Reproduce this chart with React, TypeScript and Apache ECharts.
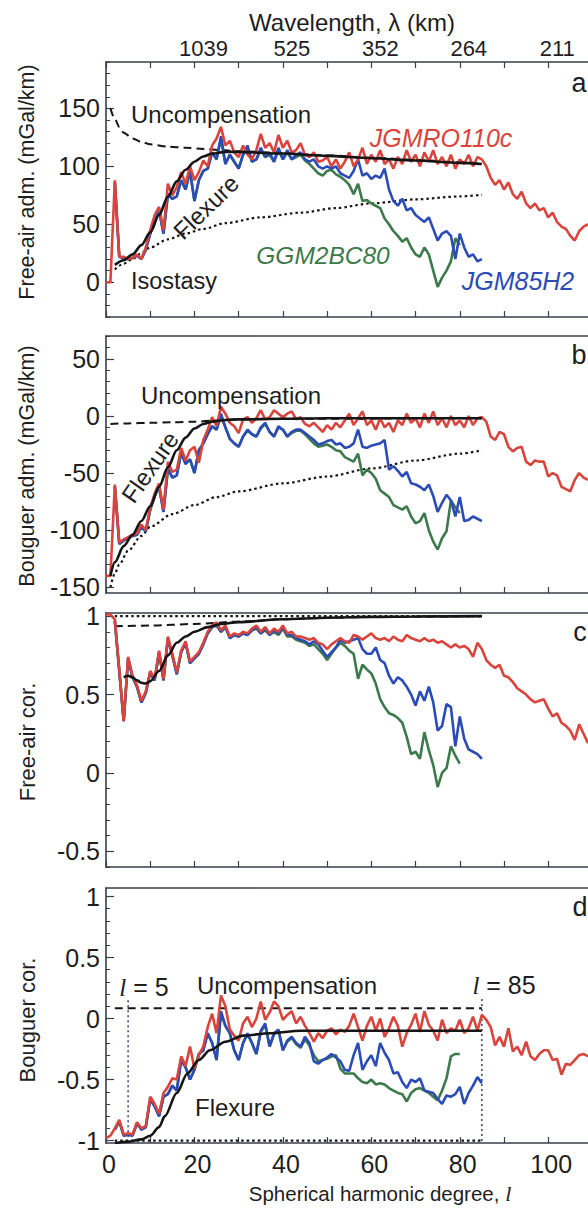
import React, { useEffect, useRef } from "react";
import * as echarts from "echarts";

// ---------------- axes / ticks ----------------
const X_MAX = 109;
const TOP_TICK_DEGREES = [20, 40, 60, 80, 100];
const TOP_TICK_LABELS = ["1039", "525", "352", "264", "211"];
const BOTTOM_TICK_DEGREES = [0, 20, 40, 60, 80, 100];

const RED_START = 0;
const BLUE_START = 2;
const GREEN_START = 2;

// ---------------- (a) Free-air admittance ----------------
const FA_ADM_RED = [
  0, 0, 88, 22, 22, 20, 21, 24, 20, 30,
  45, 58, 65, 45, 85, 75, 82, 95, 85, 100,
  88, 95, 105, 100, 118, 124, 134, 118, 122, 112,
  108, 118, 110, 106, 114, 128, 116, 120, 112, 127,
  116, 122, 112, 114, 120, 110, 108, 112, 104, 105,
  108, 100, 106, 98, 104, 112, 100, 106, 116, 102,
  110, 104, 114, 102, 106, 98, 108, 102, 114, 104,
  110, 100, 112, 104, 114, 102, 108, 100, 110, 98,
  106, 102, 110, 100, 108, 106, 100, 90, 84, 88,
  80, 86, 76, 72, 78, 68, 64, 68, 62, 64,
  56, 60, 52, 48, 46, 40, 36, 44, 48, 50,
];
const FA_ADM_BLUE = [
  86, 22, 21, 20, 21, 23, 20, 28,
  42, 55, 62, 42, 76, 72, 74, 88, 80, 96,
  70, 88, 96, 98, 112, 106, 126, 102, 110, 104,
  98, 110, 118, 104, 106, 116, 108, 112, 104, 116,
  106, 114, 106, 110, 112, 106, 104, 106, 100, 98,
  100, 98, 100, 94, 92, 90, 96, 106, 92, 94,
  89, 92, 90, 98, 80, 70, 66, 72, 62, 64,
  58, 55, 52, 56, 46, 36, 42, 44, 40, 20,
  42, 30, 22, 24, 18, 20,
];
const FA_ADM_GREEN = [
  86, 22, 21, 20, 21, 23, 20, 28,
  42, 55, 62, 42, 76, 72, 74, 88, 80, 96,
  70, 88, 96, 98, 112, 106, 124, 102, 110, 104,
  98, 110, 116, 104, 106, 114, 108, 110, 104, 114,
  106, 112, 106, 108, 110, 105, 102, 98, 94, 92,
  96, 97, 93, 91, 88, 84, 76, 85, 70, 71,
  68, 66, 64, 55, 50, 44, 40, 35, 38, 30,
  24, 22, 30, 24, 10, -4, 4, 10, 18, 38,
  32,
];
const FA_ADM_FLEXURE = [
  [2, 15], [4, 19], [6, 24], [8, 32], [10, 43], [12, 58], [14, 74], [16, 87], [18, 97],
  [20, 104], [22, 108.5], [24, 111], [27, 112.5], [30, 112.5], [40, 111], [50, 109],
  [60, 107], [70, 105], [80, 103], [85, 102],
];
const FA_ADM_UNCOMP = [
  [1, 150], [2, 141], [3, 134], [4, 129], [6, 124], [8, 121], [10, 119], [14, 117],
  [18, 116], [22, 115], [26, 114], [30, 113], [40, 111.5], [50, 109.5], [60, 107.5],
  [70, 105.5], [80, 103.5], [85, 102.5],
];
const FA_ADM_ISOSTASY = [
  [2, 11], [4, 16], [6, 20], [8, 25], [10, 30], [14, 37], [18, 42], [22, 46], [27, 51],
  [35, 56], [44, 60], [52, 64], [60, 68], [70, 71.5], [80, 74], [85, 75.5],
];

// ---------------- (b) Bouguer admittance ----------------
const BG_ADM_RED = [
  -140, -140, -60, -111, -108, -106, -104, -103, -95, -100,
  -80, -68, -59, -82, -40, -49, -47, -28, -39, -30,
  -27, -41, -21, -12, -1, -9, 8, 2, -6, -9,
  -15, -3, -1, -6, -2, 5, -3, -1, 5, 2,
  -1, 2, 4, -3, -1, -7, -9, -6, -10, -14,
  -8, -12, -6, -10, -4, 2, -8, -2, 4, -8,
  -4, -12, -2, -10, -6, -14, -4, -8, 2, -6,
  -2, -10, 2, -6, 4, -8, -2, -10, 0, -8,
  -4, -10, 0, -8, -2, -1, -5, -18, -21, -14,
  -16, -27, -31, -28, -27, -40, -43, -39, -40, -40,
  -53, -50, -52, -62, -64, -66, -56, -50, -54, -56,
];
const BG_ADM_BLUE = [
  -62, -112, -109, -107, -105, -104, -97, -101,
  -82, -70, -62, -84, -46, -54, -52, -32, -42, -38,
  -50, -30, -24, -16, -9, -12, 2, -10, -20, -24,
  -27, -18, -12, -16, -18, -10, -6, -14, -18, -9,
  -12, -18, -14, -12, -12, -15, -18, -21, -25, -24,
  -22, -21, -25, -24, -28, -27, -24, -12, -27, -28,
  -26, -25, -24, -21, -47, -44, -48, -53, -49, -59,
  -60, -62, -65, -60, -70, -84, -76, -69, -74, -88,
  -71, -92, -91, -88, -90, -92,
];
const BG_ADM_GREEN = [
  -62, -112, -109, -107, -105, -104, -97, -101,
  -82, -70, -62, -84, -46, -54, -52, -32, -42, -38,
  -50, -30, -24, -16, -9, -12, 0, -10, -20, -24,
  -27, -18, -13, -16, -18, -11, -7, -14, -18, -10,
  -12, -18, -15, -13, -13, -16, -20, -24, -27, -26,
  -25, -27, -30, -31, -36, -38, -40, -33, -52, -47,
  -50, -55, -65, -68, -71, -78, -80, -82, -79, -88,
  -94, -92, -85, -100, -110, -117, -107, -101, -74, -80,
  -85,
];
const BG_ADM_FLEXURE = [
  [1, -140], [2, -128], [4, -114], [6, -104], [8, -92], [10, -79], [12, -62], [14, -45],
  [16, -30], [18, -19], [20, -11], [22, -7], [24, -5], [27, -3.5], [30, -3], [40, -2.5],
  [50, -2], [60, -2], [70, -2], [85, -2],
];
const BG_ADM_UNCOMP = [
  [1, -7], [5, -6.5], [10, -6], [15, -5.5], [20, -5], [25, -4], [30, -3], [40, -2.5], [85, -2],
];
const BG_ADM_ISOSTASY = [
  [1, -150], [2, -138], [3, -130], [5, -118], [8, -105], [10, -97], [15, -86], [20, -78],
  [25, -71], [30, -66], [40, -59], [50, -53], [60, -46], [70, -39], [80, -33], [85, -30],
];

// ---------------- (c) Free-air correlation ----------------
const FA_COR_RED = [
  1.01, 1.01, 0.98, 0.66, 0.33, 0.74, 0.62, 0.56, 0.46, 0.52,
  0.65, 0.6, 0.78, 0.6, 0.87, 0.76, 0.64, 0.78, 0.84, 0.71,
  0.74, 0.77, 0.83, 0.9, 0.94, 0.96, 0.91, 0.94, 0.87, 0.89,
  0.88, 0.9, 0.89, 0.92, 0.94, 0.9, 0.93, 0.89, 0.92, 0.9,
  0.94, 0.89, 0.9, 0.87, 0.87, 0.86, 0.85, 0.86, 0.83, 0.82,
  0.79, 0.82, 0.84, 0.86, 0.84, 0.83, 0.88, 0.87, 0.85, 0.87,
  0.89, 0.86, 0.85, 0.86, 0.84, 0.87, 0.85, 0.84, 0.88, 0.86,
  0.85, 0.84, 0.86, 0.84, 0.85, 0.83, 0.84, 0.82, 0.8, 0.82,
  0.8, 0.81, 0.79, 0.74, 0.83, 0.79, 0.72, 0.69, 0.67, 0.69,
  0.62, 0.61, 0.58, 0.54, 0.52, 0.5, 0.47, 0.45, 0.46, 0.47,
  0.41, 0.36, 0.38, 0.32, 0.3, 0.27, 0.21, 0.31, 0.25, 0.19,
];
const FA_COR_BLUE = [
  0.97, 0.65, 0.33, 0.73, 0.61, 0.55, 0.45, 0.51,
  0.64, 0.59, 0.77, 0.59, 0.86, 0.75, 0.63, 0.77, 0.83, 0.7,
  0.73, 0.76, 0.82, 0.89, 0.93, 0.95, 0.9, 0.93, 0.86, 0.88,
  0.87, 0.89, 0.88, 0.91, 0.93, 0.89, 0.92, 0.88, 0.91, 0.89,
  0.93, 0.88, 0.88, 0.86, 0.85, 0.84, 0.82, 0.84, 0.82, 0.78,
  0.74, 0.77, 0.8, 0.85, 0.83, 0.84, 0.85, 0.86, 0.79, 0.76,
  0.76, 0.8, 0.72, 0.7, 0.62, 0.57, 0.61, 0.59, 0.55, 0.5,
  0.43, 0.52, 0.46, 0.55, 0.45, 0.27, 0.3, 0.44, 0.42, 0.17,
  0.36, 0.22, 0.15, 0.135, 0.12, 0.09,
];
const FA_COR_GREEN = [
  0.97, 0.65, 0.33, 0.73, 0.61, 0.55, 0.45, 0.51,
  0.64, 0.59, 0.77, 0.59, 0.86, 0.75, 0.63, 0.77, 0.83, 0.7,
  0.73, 0.76, 0.82, 0.89, 0.93, 0.94, 0.9, 0.93, 0.86, 0.88,
  0.87, 0.89, 0.88, 0.91, 0.92, 0.89, 0.91, 0.88, 0.9, 0.88,
  0.92, 0.87, 0.87, 0.85, 0.84, 0.83, 0.81, 0.82, 0.79, 0.76,
  0.72, 0.76, 0.8, 0.83, 0.81, 0.78, 0.76, 0.6, 0.69, 0.66,
  0.635, 0.57, 0.47, 0.42, 0.38, 0.37, 0.35, 0.32, 0.23, 0.12,
  0.135, 0.09, 0.26, 0.145, 0.05, -0.09, 0.0, 0.03, 0.17, 0.11,
  0.06,
];
const FA_COR_FLEXURE = [
  [4, 0.61], [5, 0.62], [6, 0.61], [7, 0.59], [8, 0.575], [9, 0.57], [10, 0.585], [12, 0.65],
  [14, 0.75], [16, 0.83], [18, 0.87], [20, 0.9], [23, 0.93], [26, 0.95], [30, 0.962],
  [40, 0.98], [50, 0.99], [60, 0.995], [70, 0.998], [85, 1.0],
];
const FA_COR_UNCOMP = [
  [2, 0.935], [10, 0.94], [20, 0.95], [30, 0.965], [40, 0.98], [50, 0.99], [60, 0.995], [85, 1.0],
];
const FA_COR_ISOSTASY = [[2, 1.0], [85, 1.0]];

// ---------------- (d) Bouguer correlation ----------------
const BG_COR_RED = [
  -0.98, -0.96, -0.9, -0.83, -0.95, -0.94, -0.95, -0.85, -0.9, -0.88,
  -0.64, -0.7, -0.78, -0.61, -0.56, -0.49, -0.5, -0.31, -0.39, -0.23,
  -0.41, -0.3, -0.23, -0.07, 0.04, -0.12, 0.19, 0.1, -0.09, -0.14,
  -0.18, -0.04, 0.015, -0.07, 0.0, 0.14, -0.01, 0.05, 0.14, 0.1,
  -0.01, 0.03, 0.06, -0.04, 0.015, -0.06, -0.12, -0.19, -0.12, -0.16,
  -0.1, -0.08, -0.13, -0.09, -0.11, -0.06, 0.04, -0.07, -0.18, -0.06,
  0.015, -0.1, 0.0, -0.15, -0.08, 0.015, -0.06, -0.23, -0.12, -0.05,
  0.04, -0.11, 0.06, -0.05, -0.1, -0.18, -0.01, -0.12, -0.08, -0.1,
  -0.01, -0.12, -0.08, 0.015, -0.1, 0.03, -0.01, -0.07, -0.22, -0.15,
  -0.23, -0.08, -0.27, -0.23, -0.3, -0.19, -0.31, -0.34, -0.29, -0.26,
  -0.26, -0.34, -0.33, -0.46, -0.37, -0.38, -0.34, -0.3, -0.29, -0.31,
];
const BG_COR_BLUE = [
  -0.91, -0.84, -0.96, -0.95, -0.96, -0.86, -0.91, -0.89,
  -0.66, -0.72, -0.8, -0.64, -0.62, -0.55, -0.59, -0.34, -0.4, -0.5,
  -0.42, -0.29, -0.26, -0.12, -0.2, -0.34, 0.06, -0.06, -0.12, -0.26,
  -0.34, -0.2, -0.12, -0.2, -0.29, -0.1, -0.04, -0.23, -0.12, -0.09,
  -0.26, -0.18, -0.15, -0.2, -0.23, -0.15, -0.2, -0.35, -0.37, -0.34,
  -0.32, -0.29, -0.32, -0.35, -0.42, -0.43, -0.3, -0.2, -0.42, -0.35,
  -0.3, -0.39, -0.2, -0.28, -0.34, -0.45, -0.44, -0.52, -0.57, -0.5,
  -0.52, -0.49, -0.59, -0.6, -0.61, -0.66, -0.7, -0.63, -0.64, -0.62,
  -0.56, -0.7, -0.61, -0.55, -0.48, -0.53,
];
const BG_COR_GREEN = [
  -0.91, -0.84, -0.96, -0.95, -0.96, -0.86, -0.91, -0.89,
  -0.66, -0.72, -0.8, -0.64, -0.62, -0.55, -0.59, -0.34, -0.4, -0.5,
  -0.42, -0.29, -0.26, -0.12, -0.2, -0.34, 0.04, -0.06, -0.12, -0.26,
  -0.34, -0.2, -0.13, -0.2, -0.29, -0.11, -0.05, -0.23, -0.13, -0.1,
  -0.26, -0.19, -0.16, -0.21, -0.24, -0.17, -0.22, -0.3, -0.35, -0.34,
  -0.33, -0.31, -0.3, -0.41, -0.45, -0.45, -0.45, -0.49, -0.52, -0.53,
  -0.5, -0.54, -0.53, -0.54, -0.57, -0.59, -0.61, -0.62, -0.68, -0.61,
  -0.58, -0.57, -0.59, -0.61, -0.64, -0.67, -0.59, -0.49, -0.31, -0.29,
  -0.29,
];
const BG_COR_FLEXURE = [
  [2, -1.02], [5, -1.01], [8, -0.99], [10, -0.96], [12, -0.89], [13.3, -0.8], [16, -0.61],
  [18.4, -0.45], [21, -0.34], [23.5, -0.26], [27, -0.19], [31, -0.14], [37, -0.12],
  [44, -0.1], [60, -0.1], [85, -0.1],
];
const BG_COR_UNCOMP = [[2, 0.085], [85, 0.085]];
const BG_COR_ISOSTASY = [[2, -1.0], [85, -1.0]];
const BG_COR_MARK_L5 = [[5, 0.15], [5, -1.02]];
const BG_COR_MARK_L85 = [[85, 0.16], [85, -1.02]];

// ---------------- styling ----------------
const FONT = "'Liberation Sans', Arial, Helvetica, sans-serif";
const C_RED = "#d9443c";
const C_BLUE = "#2b4cb6";
const C_GREEN = "#3d7a4b";
const C_BLACK = "#151515";
const C_AXIS = "#3a3d4a";
const C_TEXT = "#1e1e1e";

const PANELS = [
  { top: 62, height: 255, min: -30, max: 190, major: [0, 50, 100, 150], step: 10 },
  { top: 336, height: 257, min: -155, max: 70, major: [-150, -100, -50, 0, 50], step: 10 },
  { top: 613, height: 254, min: -0.6, max: 1.02, major: [-0.5, 0, 0.5, 1], step: 0.1 },
  { top: 888, height: 255, min: -1.02, max: 1.07, major: [-1, -0.5, 0, 0.5, 1], step: 0.1 },
];

const ticksFrom = (min: number, max: number, step: number) => {
  const out: number[] = [];
  const n0 = Math.ceil(min / step - 1e-9);
  const n1 = Math.floor(max / step + 1e-9);
  for (let n = n0; n <= n1; n++) out.push(+(n * step).toFixed(4));
  return out;
};
const X_TICKS = ticksFrom(0, 100, 10);

const pairs = (start: number, vals: number[]) => vals.map((v, k) => [start + k, v]);

const PANEL_DATA = [
  { red: FA_ADM_RED, blue: FA_ADM_BLUE, green: FA_ADM_GREEN, flex: FA_ADM_FLEXURE, unc: FA_ADM_UNCOMP, iso: FA_ADM_ISOSTASY },
  { red: BG_ADM_RED, blue: BG_ADM_BLUE, green: BG_ADM_GREEN, flex: BG_ADM_FLEXURE, unc: BG_ADM_UNCOMP, iso: BG_ADM_ISOSTASY },
  { red: FA_COR_RED, blue: FA_COR_BLUE, green: FA_COR_GREEN, flex: FA_COR_FLEXURE, unc: FA_COR_UNCOMP, iso: FA_COR_ISOSTASY },
  { red: BG_COR_RED, blue: BG_COR_BLUE, green: BG_COR_GREEN, flex: BG_COR_FLEXURE, unc: BG_COR_UNCOMP, iso: BG_COR_ISOSTASY },
];

const txt = (
  text: string,
  x: number,
  y: number,
  size: number,
  o: { rot?: number; color?: string; italic?: boolean; rich?: any } = {}
) => ({
  type: "text",
  x,
  y,
  rotation: o.rot || 0,
  silent: true,
  z: 100,
  style: {
    text,
    x: 0,
    y: 0,
    fill: o.color || C_TEXT,
    font: `${o.italic ? "italic " : ""}${size}px ${FONT}`,
    textAlign: "center",
    textVerticalAlign: "middle",
    verticalAlign: "middle",
    rich: o.rich,
  },
});

const ITALIC_L = {
  i: { fontStyle: "italic", fontFamily: "'Liberation Serif', serif", fontSize: 25, fill: C_TEXT },
};

function buildOption() {
  const grid: any[] = [];
  const xAxis: any[] = [];
  const yAxis: any[] = [];
  const series: any[] = [];

  PANELS.forEach((p, i) => {
    grid.push({ left: 106, right: 0, top: p.top, height: p.height, containLabel: false });
    xAxis.push({
      type: "value",
      gridIndex: i,
      position: "bottom",
      min: 0,
      max: X_MAX,
      interval: 10,
      axisLine: { show: true, onZero: false, lineStyle: { color: C_AXIS, width: 1.6 } },
      axisTick: { show: true, inside: true, length: 6, customValues: X_TICKS, lineStyle: { color: C_AXIS, width: 1.2 } },
      axisLabel:
        i === 3
          ? { show: true, customValues: BOTTOM_TICK_DEGREES, margin: 8, fontSize: 25, fontFamily: FONT, color: C_TEXT, padding: [0, 0, 0, 6] }
          : { show: false },
      splitLine: { show: false },
    });
    xAxis.push({
      type: "value",
      gridIndex: i,
      position: "top",
      min: 0,
      max: X_MAX,
      interval: 10,
      axisLine: { show: true, onZero: false, lineStyle: { color: C_AXIS, width: 1.6 } },
      axisTick:
        i === 0
          ? { show: true, inside: true, length: 6, customValues: X_TICKS, lineStyle: { color: C_AXIS, width: 1.2 } }
          : { show: false },
      axisLabel:
        i === 0
          ? {
              show: true,
              customValues: TOP_TICK_DEGREES,
              formatter: (v: number) => TOP_TICK_LABELS[TOP_TICK_DEGREES.indexOf(v)] || "",
              margin: 3,
              fontSize: 22,
              fontFamily: FONT,
              color: C_TEXT,
              padding: [0, 0, 0, 18],
            }
          : { show: false },
      splitLine: { show: false },
    });
    yAxis.push({
      type: "value",
      gridIndex: i,
      position: "left",
      min: p.min,
      max: p.max,
      axisLine: { show: true, onZero: false, lineStyle: { color: C_AXIS, width: 1.6 } },
      axisTick: { show: true, inside: true, length: 8, customValues: p.major, lineStyle: { color: C_AXIS, width: 1.2 } },
      axisLabel: {
        show: true,
        customValues: p.major,
        formatter: (v: number) => String(v),
        margin: 6,
        fontSize: 25,
        fontFamily: FONT,
        color: C_TEXT,
      },
      splitLine: { show: false },
    });
    yAxis.push({
      type: "value",
      gridIndex: i,
      position: "left",
      min: p.min,
      max: p.max,
      axisLine: { show: false },
      axisTick: { show: true, inside: true, length: 4, customValues: ticksFrom(p.min, p.max, p.step), lineStyle: { color: C_AXIS, width: 1 } },
      axisLabel: { show: false },
      splitLine: { show: false },
    });

    const d = PANEL_DATA[i];
    const base = { type: "line", xAxisIndex: 2 * i, yAxisIndex: 2 * i, symbol: "none", showSymbol: false, silent: true, clip: true };
    series.push({ ...base, name: `iso${i}`, data: d.iso, smooth: 0.3, smoothMonotone: "x", lineStyle: { color: C_BLACK, width: 2.2, type: [2.5, 3] }, z: 3 });
    series.push({ ...base, name: `unc${i}`, data: d.unc, smooth: 0.3, smoothMonotone: "x", lineStyle: { color: C_BLACK, width: 2, type: [8, 5] }, z: 3 });
    series.push({ ...base, name: "GGM2BC80", data: pairs(GREEN_START, d.green), lineStyle: { color: C_GREEN, width: 2.6 }, z: 4 });
    series.push({ ...base, name: "JGM85H2", data: pairs(BLUE_START, d.blue), lineStyle: { color: C_BLUE, width: 2.6 }, z: 5 });
    series.push({ ...base, name: "JGMRO110c", data: pairs(RED_START, d.red), lineStyle: { color: C_RED, width: 2.6 }, z: 6 });
    series.push({ ...base, name: `flex${i}`, data: d.flex, smooth: 0.3, smoothMonotone: "x", lineStyle: { color: C_BLACK, width: 2.6 }, z: 7 });
    if (i === 3) {
      series.push({ ...base, name: "l5", data: BG_COR_MARK_L5, lineStyle: { color: "#34407a", width: 1.5, type: [2, 3] }, z: 2 });
      series.push({ ...base, name: "l85", data: BG_COR_MARK_L85, lineStyle: { color: "#34407a", width: 1.5, type: [2, 3] }, z: 2 });
    }
  });

  const graphic = [
    txt("Wavelength, λ (km)", 352, 22, 24),
    txt("Spherical harmonic degree, {i|l}", 380, 1193, 20.5, { rich: { i: { ...ITALIC_L.i, fontSize: 22 } } }),
    txt("Free-air adm. (mGal/km)", 27, 182, 21.5, { rot: Math.PI / 2 }),
    txt("Bouguer adm. (mGal/km)", 27, 466, 21.5, { rot: Math.PI / 2 }),
    txt("Free-air cor.", 27, 742, 22, { rot: Math.PI / 2 }),
    txt("Bouguer cor.", 27, 1020, 22, { rot: Math.PI / 2 }),
    txt("a", 579, 83, 27),
    txt("b", 579, 355, 27),
    txt("c", 580, 632, 27),
    txt("d", 580, 907, 27),
    // panel a
    txt("Uncompensation", 221, 114, 24),
    txt("Isostasy", 174, 281, 23.5),
    txt("Flexure", 206, 207, 24, { rot: (44 * Math.PI) / 180 }),
    txt("JGMRO110c", 441, 138, 25, { italic: true, color: C_RED }),
    txt("GGM2BC80", 323, 255, 24.5, { italic: true, color: C_GREEN }),
    txt("JGM85H2", 518, 281, 25, { italic: true, color: C_BLUE }),
    // panel b
    txt("Uncompensation", 231, 395, 24),
    txt("Flexure", 150, 467, 24, { rot: (55 * Math.PI) / 180 }),
    // panel d
    txt("{i|l} = 5", 144, 987, 25, { rich: ITALIC_L }),
    txt("Uncompensation", 287, 985, 24),
    txt("{i|l} = 85", 504, 985, 25, { rich: ITALIC_L }),
    txt("Flexure", 235, 1107, 24),
  ];

  return {
    animation: false,
    backgroundColor: "#ffffff",
    textStyle: { fontFamily: FONT },
    grid,
    xAxis,
    yAxis,
    series,
    graphic,
  };
}

export default function App() {
  const ref = useRef<HTMLDivElement>(null);
  useEffect(() => {
    if (!ref.current) return;
    const chart = echarts.init(ref.current, undefined, { renderer: "svg" });
    chart.setOption(buildOption() as any);
    return () => chart.dispose();
  }, []);
  return (
    <div
      ref={ref}
      style={{ position: "absolute", left: 0, top: 0, width: 588, height: 1213, background: "#fff" }}
    />
  );
}
